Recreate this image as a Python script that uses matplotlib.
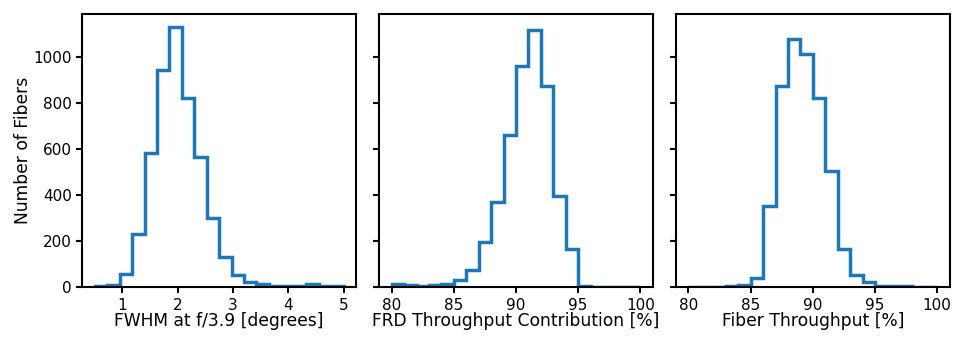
import numpy as np
import matplotlib
matplotlib.use("Agg")
import matplotlib.pyplot as plt

# bin edges
fwhm_edges = np.linspace(0.5, 5.0, 21)
pct_edges = np.linspace(80, 100, 21)

# counts
fwhm_counts = [4, 8, 58, 230, 581, 942, 1131, 821, 567, 299,
               131, 52, 23, 12, 3, 3, 3, 12, 3, 3]
frd_counts = [12, 8, 5, 8, 15, 30, 75, 195, 372, 661,
              961, 1116, 872, 395, 164, 3, 2, 1, 0, 0]
thru_counts = [2, 1, 1, 3, 10, 41, 352, 876, 1077, 1015,
               821, 503, 164, 55, 23, 4, 4, 3, 1, 0]

xlabels = ["FWHM at f/3.9 [degrees]", "FRD Throughput Contribution [%]", "Fiber Throughput [%]"]

plt.rcParams['font.size'] = 12.3

fig, axs = plt.subplots(1, 3, figsize=(9.69, 3.46), dpi=100, sharey=True)
fig.subplots_adjust(left=0.085, right=0.98, top=0.96, bottom=0.17, wspace=0.085)

data = [(fwhm_edges, fwhm_counts), (pct_edges, frd_counts), (pct_edges, thru_counts)]
for ax, (edges, counts), lab in zip(axs, data, xlabels):
    ax.hist(edges[:-1], bins=edges, weights=counts, histtype='step', lw=2.5, color='tab:blue')
    ax.set_xlabel(lab, labelpad=-0.5)
    for sp in ax.spines.values():
        sp.set_linewidth(1.5)
    ax.tick_params(width=1.5, length=4, labelsize=11)

axs[0].set_ylabel("Number of Fibers", labelpad=1)
axs[0].set_xticks([1, 2, 3, 4, 5])
axs[1].set_xticks([80, 85, 90, 95, 100])
axs[2].set_xticks([80, 85, 90, 95, 100])

plt.savefig("out.png")
